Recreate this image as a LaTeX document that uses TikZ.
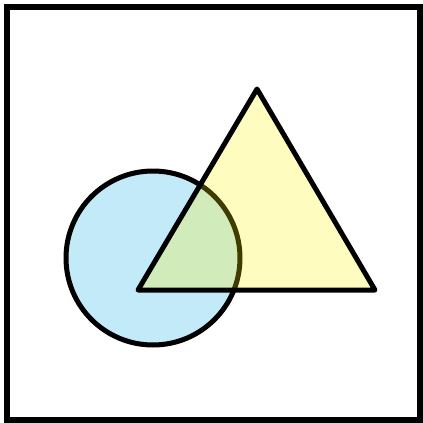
\documentclass[tikz,border=0pt]{standalone}
\begin{document}
\begin{tikzpicture}[x=1pt,y=-1pt,
  shapeline/.style={draw=black,line width=5pt,line join=round},
  circfill/.style={fill={rgb,255:red,194;green,234;blue,249}},
  trifill/.style={fill=yellow,fill opacity=0.25}]
\useasboundingbox (0,0) rectangle (423,423);
\draw[line width=5.5pt] (7,7) rectangle (420,420);
\path[shapeline,circfill] (153,258) circle[radius=87];
\coordinate (a) at (257,89);
\coordinate (b) at (138,290);
\coordinate (c) at (375,290);
\path[shapeline,trifill] (a) -- (b) -- (c) -- cycle;
\end{tikzpicture}
\end{document}
